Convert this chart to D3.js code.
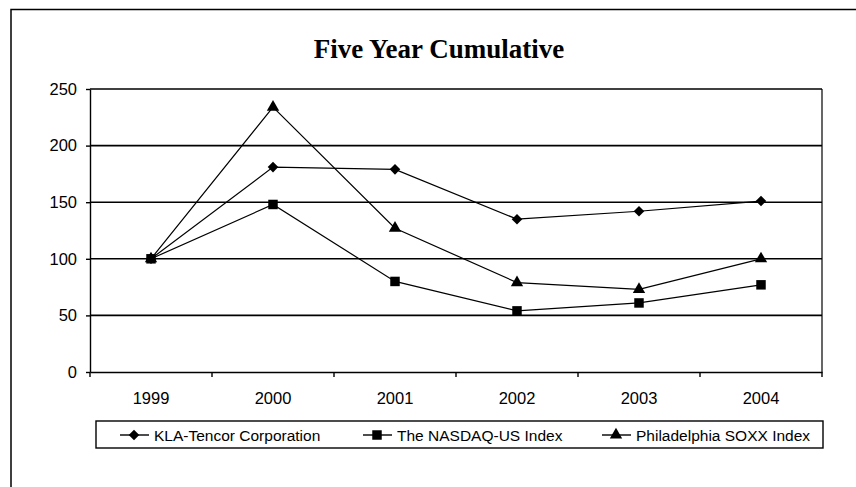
<!DOCTYPE html>
<html>
<head>
<meta charset="utf-8">
<script src="https://cdn.jsdelivr.net/npm/d3@7"></script>
<style>
  body { margin: 0; background: #fff; }
  svg { display: block; }
  .tick text { font-family: "Liberation Sans", Arial, sans-serif; font-size: 16.5px; fill: #000; }
</style>
</head>
<body>
<div id="chart"></div>
<script>
// data
var years = ["1999", "2000", "2001", "2002", "2003", "2004"];
var kla = [100, 181, 179, 135, 142, 151];
var nasdaq = [100, 148, 80, 54, 61, 77];
var soxx = [100, 234, 127, 79, 73, 100];
var yTicks = [0, 50, 100, 150, 200, 250];
var seriesNames = ["KLA-Tencor Corporation", "The NASDAQ-US Index", "Philadelphia SOXX Index"];

(function () {
  var width = 856, height = 487,
    left = 90, right = 822, top = 89, bottom = 372;

  var svg = d3.select("#chart").append("svg")
    .attr("width", width)
    .attr("height", height);

  // outer frame (only top and left edges show)
  svg.append("path")
    .attr("d", "M11,489V9.5H860")
    .attr("fill", "none")
    .attr("stroke", "#000")
    .attr("stroke-width", 1.5);

  svg.append("text")
    .attr("x", 439)
    .attr("y", 58)
    .attr("text-anchor", "middle")
    .style("font-family", "'Liberation Serif', 'Times New Roman', serif")
    .style("font-weight", "bold")
    .style("font-size", "27px")
    .text("Five Year Cumulative");

  var x = d3.scaleBand().domain(years).range([left, right]).padding(0);
  var y = d3.scaleLinear().domain([0, 250]).range([bottom, top]);

  // gridlines
  svg.append("g")
    .selectAll("line")
    .data(yTicks.filter(function (d) { return d > 0; }))
    .enter().append("line")
    .attr("x1", left).attr("x2", right)
    .attr("y1", function (d) { return y(d); })
    .attr("y2", function (d) { return y(d); })
    .attr("stroke", "#000")
    .attr("stroke-width", 1.6);

  // right edge of plot area
  svg.append("line")
    .attr("x1", right).attr("x2", right)
    .attr("y1", top).attr("y2", bottom)
    .attr("stroke", "#000").attr("stroke-width", 1.2);

  // y axis
  var yAxis = svg.append("g")
    .attr("transform", "translate(" + left + ",0)")
    .call(d3.axisLeft(y).tickValues(yTicks).tickSize(4).tickPadding(9).tickSizeOuter(0));
  yAxis.select(".domain").attr("stroke-width", 1.4);
  yAxis.selectAll(".tick line").attr("stroke-width", 1.4);

  // x axis: ticks at the category boundaries
  var xAxis = svg.append("g")
    .attr("transform", "translate(0," + bottom + ")")
    .call(d3.axisBottom(x).tickSize(0).tickPadding(20));
  xAxis.select(".domain").attr("stroke-width", 1.6);
  xAxis.selectAll(".tick text").attr("dy", "0.71em");
  xAxis.append("g")
    .selectAll("line")
    .data(years.concat(["end"]))
    .enter().append("line")
    .attr("x1", function (d, i) { return left + i * x.bandwidth(); })
    .attr("x2", function (d, i) { return left + i * x.bandwidth(); })
    .attr("y1", 0).attr("y2", 5)
    .attr("stroke", "#000").attr("stroke-width", 1.4);

  // diamond = square turned 45 degrees
  var series = [
    { name: seriesNames[0], values: kla, symbol: d3.symbolSquare, size: 56, rot: 45 },
    { name: seriesNames[1], values: nasdaq, symbol: d3.symbolSquare, size: 90, rot: 0 },
    { name: seriesNames[2], values: soxx, symbol: d3.symbolTriangle, size: 66, rot: 0 }
  ];

  var cx = function (d, i) { return x(years[i]) + x.bandwidth() / 2; };
  var line = d3.line()
    .x(cx)
    .y(function (d) { return y(d); });

  series.forEach(function (s) {
    var g = svg.append("g");
    g.append("path")
      .datum(s.values)
      .attr("d", line)
      .attr("fill", "none")
      .attr("stroke", "#000")
      .attr("stroke-width", 1.2);
    g.selectAll("path.mark")
      .data(s.values)
      .enter().append("path")
      .attr("class", "mark")
      .attr("d", d3.symbol().type(s.symbol).size(s.size))
      .attr("transform", function (d, i) {
        return "translate(" + cx(d, i) + "," + y(d) + ") rotate(" + s.rot + ")";
      })
      .attr("fill", "#000");
  });

  // legend
  var legend = svg.append("g");
  legend.append("rect")
    .attr("x", 96).attr("y", 421)
    .attr("width", 727).attr("height", 27)
    .attr("fill", "none")
    .attr("stroke", "#000")
    .attr("stroke-width", 1.4);

  var legendX = [120, 363, 602];
  series.forEach(function (s, i) {
    var lg = legend.append("g").attr("transform", "translate(" + legendX[i] + ",435)");
    lg.append("line")
      .attr("x1", 0).attr("x2", 29)
      .attr("y1", 0).attr("y2", 0)
      .attr("stroke", "#000").attr("stroke-width", 1.4);
    lg.append("path")
      .attr("d", d3.symbol().type(s.symbol).size(s.size))
      .attr("transform", "translate(14,0) rotate(" + s.rot + ")")
      .attr("fill", "#000");
    lg.append("text")
      .attr("x", 34)
      .attr("y", 6)
      .style("font-family", "'Liberation Sans', Arial, sans-serif")
      .style("font-size", "15.5px")
      .text(s.name);
  });
}());
</script>
</body>
</html>
